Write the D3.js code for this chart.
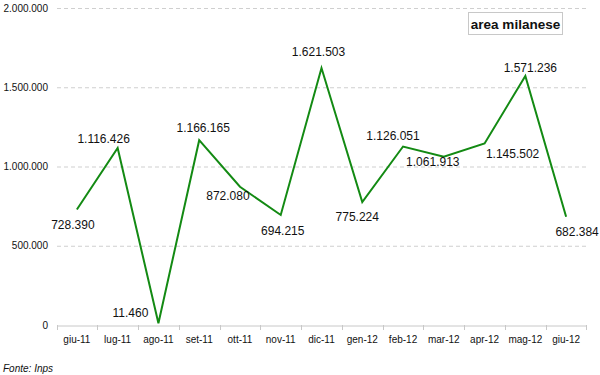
<!DOCTYPE html>
<html><head><meta charset="utf-8">
<script src="https://cdn.jsdelivr.net/npm/d3@7"></script>
<style>body{margin:0;background:#fff}svg{display:block;font-family:"Liberation Sans",Arial,sans-serif}</style>
</head><body><svg id="c" width="600" height="375"></svg>
<script>
const categories = ["giu-11","lug-11","ago-11","set-11","ott-11","nov-11","dic-11","gen-12","feb-12","mar-12","apr-12","mag-12","giu-12"];
const values = [728390,1116426,11460,1166165,872080,694215,1621503,775224,1126051,1061913,1145502,1571236,682384];
const yTicks = [0,500000,1000000,1500000,2000000];
const seriesName = "area milanese";
const source = "Fonte: Inps";

// label placement offsets (render config)
const labelOffsets = [[-4,15],[-14,-9],[-28,-10],[4,-12],[-12,9],[2,16],[-3,-16],[-5,15],[-10,-11],[-11,5],[28,10],[5,-8],[11,15]];

const fmt = v => d3.format(",")(v).replace(/,/g,".");
const svg = d3.select("#c");
const x = d3.scaleBand().domain(categories).range([56.5,586.5]);
const y = d3.scaleLinear().domain([0,2000000]).range([325,8]);

// gridlines
svg.append("g").selectAll("line").data(yTicks.filter(d=>d>0)).join("line")
  .attr("x1",57).attr("x2",586).attr("y1",d=>y(d)+0.5).attr("y2",d=>y(d)+0.5)
  .attr("stroke","#cfcfcf").attr("stroke-dasharray","4,3");

// y labels
svg.append("g").selectAll("text").data(yTicks).join("text")
  .attr("x",48).attr("y",d=>y(d)).attr("dy","0.35em").attr("text-anchor","end")
  .attr("font-size",10).attr("fill","#111").text(fmt);

// x axis
const xa = svg.append("g").attr("transform","translate(0,325.5)")
  .call(d3.axisBottom(x).tickSize(0).tickPadding(10));
xa.select(".domain").attr("stroke","#c8c8c8");
xa.selectAll("text").attr("font-size",10).attr("fill","#111").attr("font-family","Liberation Sans, Arial, sans-serif");
const bounds = categories.map(c=>x(c)).concat([x(categories[categories.length-1])+x.bandwidth()]);
svg.append("g").selectAll("line").data(bounds).join("line")
  .attr("x1",d=>Math.round(d)+0.5).attr("x2",d=>Math.round(d)+0.5).attr("y1",325).attr("y2",330)
  .attr("stroke","#c8c8c8");

// line
const cx = c => x(c)+x.bandwidth()/2;
svg.append("path").datum(values)
  .attr("d", d3.line().x((d,i)=>cx(categories[i])).y(d=>y(d)))
  .attr("fill","none").attr("stroke","#138a13").attr("stroke-width",2);

// labels
svg.append("g").selectAll("text").data(values).join("text")
  .attr("x",(d,i)=>cx(categories[i])+labelOffsets[i][0])
  .attr("y",(d,i)=>y(d)+labelOffsets[i][1])
  .attr("dy","0.35em").attr("text-anchor","middle").attr("font-size",12).attr("fill","#111")
  .text(fmt);

// legend box
svg.append("rect").attr("x",468.5).attr("y",12.5).attr("width",94).attr("height",22)
  .attr("fill","#fff").attr("stroke","#c8c8c8");
svg.append("text").attr("x",515.5).attr("y",24).attr("dy","0.35em").attr("text-anchor","middle")
  .attr("font-size",13.5).attr("font-weight","bold").attr("fill","#111").text(seriesName);

// source
svg.append("text").attr("x",3).attr("y",368).attr("dy","0.35em")
  .attr("font-size",10).attr("font-style","italic").attr("fill","#111").text(source);
</script></body></html>
